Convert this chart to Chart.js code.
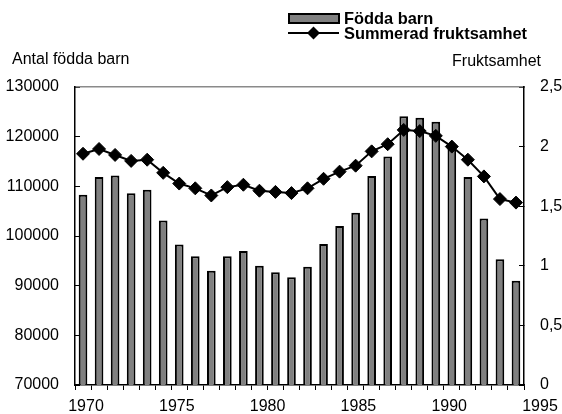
<!DOCTYPE html>
<html>
<head>
<meta charset="utf-8">
<script src="https://cdn.jsdelivr.net/npm/chart.js@4/dist/chart.umd.min.js"></script>
<style>
  html, body { margin: 0; padding: 0; background: #fff; }
  #wrap { position: relative; width: 562px; height: 414px; }
</style>
</head>
<body>
<div id="wrap"><canvas id="chart"></canvas></div>
<script>
// data
const years = ["1970", "1971", "1972", "1973", "1974", "1975", "1976", "1977", "1978", "1979",
  "1980", "1981", "1982", "1983", "1984", "1985", "1986", "1987", "1988", "1989",
  "1990", "1991", "1992", "1993", "1994", "1995", "1996", "1997"];
const births = [108300, 111900, 112200, 108600, 109300, 103100, 98300, 95900, 93000, 95900,
  97000, 94000, 92700, 91700, 93800, 98400, 102000, 104700, 112100, 116000,
  124100, 123800, 123000, 117700, 111900, 103500, 95300, 91000];
const fertility = [1.94, 1.98, 1.93, 1.88, 1.89, 1.78, 1.69, 1.65, 1.59, 1.66,
  1.68, 1.63, 1.62, 1.61, 1.65, 1.73, 1.79, 1.84, 1.96, 2.02,
  2.14, 2.13, 2.09, 2.0, 1.89, 1.75, 1.56, 1.53];
const yearTicks = [1970, 1975, 1980, 1985, 1990, 1995];

const FONT = "'Liberation Sans', Arial, sans-serif";
Chart.defaults.font.family = FONT;
Chart.defaults.font.size = 16;
Chart.defaults.color = "#000";

// legend + axis titles drawn by hand, the Excel layout is hard to get otherwise
const extras = {
  id: "extras",
  afterDraw(chart) {
    const ctx = chart.ctx;
    const barDs = chart.data.datasets[1];
    const lineDs = chart.data.datasets[0];
    ctx.save();

    // Födda barn
    ctx.fillStyle = barDs.backgroundColor;
    ctx.fillRect(289, 14, 50, 9);
    ctx.strokeStyle = barDs.borderColor;
    ctx.lineWidth = 2;
    ctx.strokeRect(289, 14, 50, 9);

    // Summerad fruktsamhet
    ctx.strokeStyle = lineDs.borderColor;
    ctx.lineWidth = lineDs.borderWidth;
    ctx.beginPath();
    ctx.moveTo(288, 33);
    ctx.lineTo(339, 33);
    ctx.stroke();
    const r = lineDs.pointRadius;
    ctx.fillStyle = lineDs.pointBackgroundColor;
    ctx.beginPath();
    ctx.moveTo(313.5, 33 - r);
    ctx.lineTo(313.5 + r, 33);
    ctx.lineTo(313.5, 33 + r);
    ctx.lineTo(313.5 - r, 33);
    ctx.closePath();
    ctx.fill();

    ctx.fillStyle = "#000";
    ctx.textBaseline = "middle";
    ctx.textAlign = "left";
    ctx.font = "bold 16.4px " + FONT;
    ctx.fillText("Födda barn", 344, 19);
    ctx.fillText("Summerad fruktsamhet", 344, 34);

    ctx.font = "16px " + FONT;
    ctx.fillText("Antal födda barn", 12, 60);
    ctx.textAlign = "right";
    ctx.fillText("Fruktsamhet", 541, 62);
    ctx.restore();
  }
};

function noPad(scale) {
  scale.paddingLeft = 0;
  scale.paddingRight = 0;
  scale.paddingTop = 0;
  scale.paddingBottom = 0;
}

new Chart(document.getElementById("chart"), {
  type: "bar",
  data: {
    labels: years,
    datasets: [
      {
        type: "line",
        label: "Summerad fruktsamhet",
        data: fertility,
        yAxisID: "y2",
        order: 0,
        borderColor: "#000",
        borderWidth: 2,
        pointStyle: "rectRot",
        pointRadius: 6.5,
        pointBackgroundColor: "#000",
        pointBorderColor: "#000",
        pointBorderWidth: 1,
        tension: 0,
      },
      {
        label: "Födda barn",
        data: births,
        yAxisID: "y",
        order: 1,
        backgroundColor: "#808080",
        borderColor: "#000",
        borderWidth: 2,
        categoryPercentage: 1,
        barPercentage: 0.54,
      },
    ],
  },
  options: {
    responsive: true,
    maintainAspectRatio: false,
    animation: false,
    layout: { padding: { top: 87, left: 0, right: 0, bottom: 0 } },
    plugins: {
      legend: { display: false },
      tooltip: { enabled: false },
    },
    scales: {
      x: {
        position: "bottom",
        weight: 0,
        offset: true,
        ticks: { display: false },
        grid: { offset: true, drawOnChartArea: false, tickLength: 5, color: "#000" },
        border: { color: "#000", width: 1.5 },
        afterFit(s) { s.height = 6; noPad(s); },
      },
      xYears: {
        type: "linear",
        position: "bottom",
        weight: 1,
        offset: false,
        min: 1969.394,
        max: 1994.119,
        afterBuildTicks(s) { s.ticks = yearTicks.map((v) => ({ value: v })); },
        ticks: { autoSkip: false, maxRotation: 0, padding: -2, callback: (v) => String(v) },
        grid: { display: false, offset: false },
        border: { display: false },
        afterFit(s) { s.height = 23; noPad(s); },
      },
      xTop: {
        type: "category",
        position: "top",
        ticks: { display: false },
        grid: { display: true, drawOnChartArea: false, drawTicks: false },
        border: { color: "#8a8a8a", width: 1.5 },
        afterFit(s) { s.height = 0; noPad(s); },
      },
      y: {
        position: "left",
        min: 70000,
        max: 130000,
        ticks: { stepSize: 10000, padding: 21, callback: (v) => String(v) },
        grid: { drawOnChartArea: false, tickLength: -5, color: "#000" },
        border: { color: "#000", width: 1.5 },
        afterFit(s) { s.width = 75; noPad(s); },
      },
      y2: {
        position: "right",
        min: 0,
        max: 2.5,
        ticks: { stepSize: 0.5, padding: 21, callback: (v) => String(v).replace(".", ",") },
        grid: { drawOnChartArea: false, tickLength: -5, color: "#000" },
        border: { color: "#000", width: 1.5 },
        afterFit(s) { s.width = 38; noPad(s); },
      },
    },
  },
  plugins: [extras],
});
</script>
</body>
</html>
